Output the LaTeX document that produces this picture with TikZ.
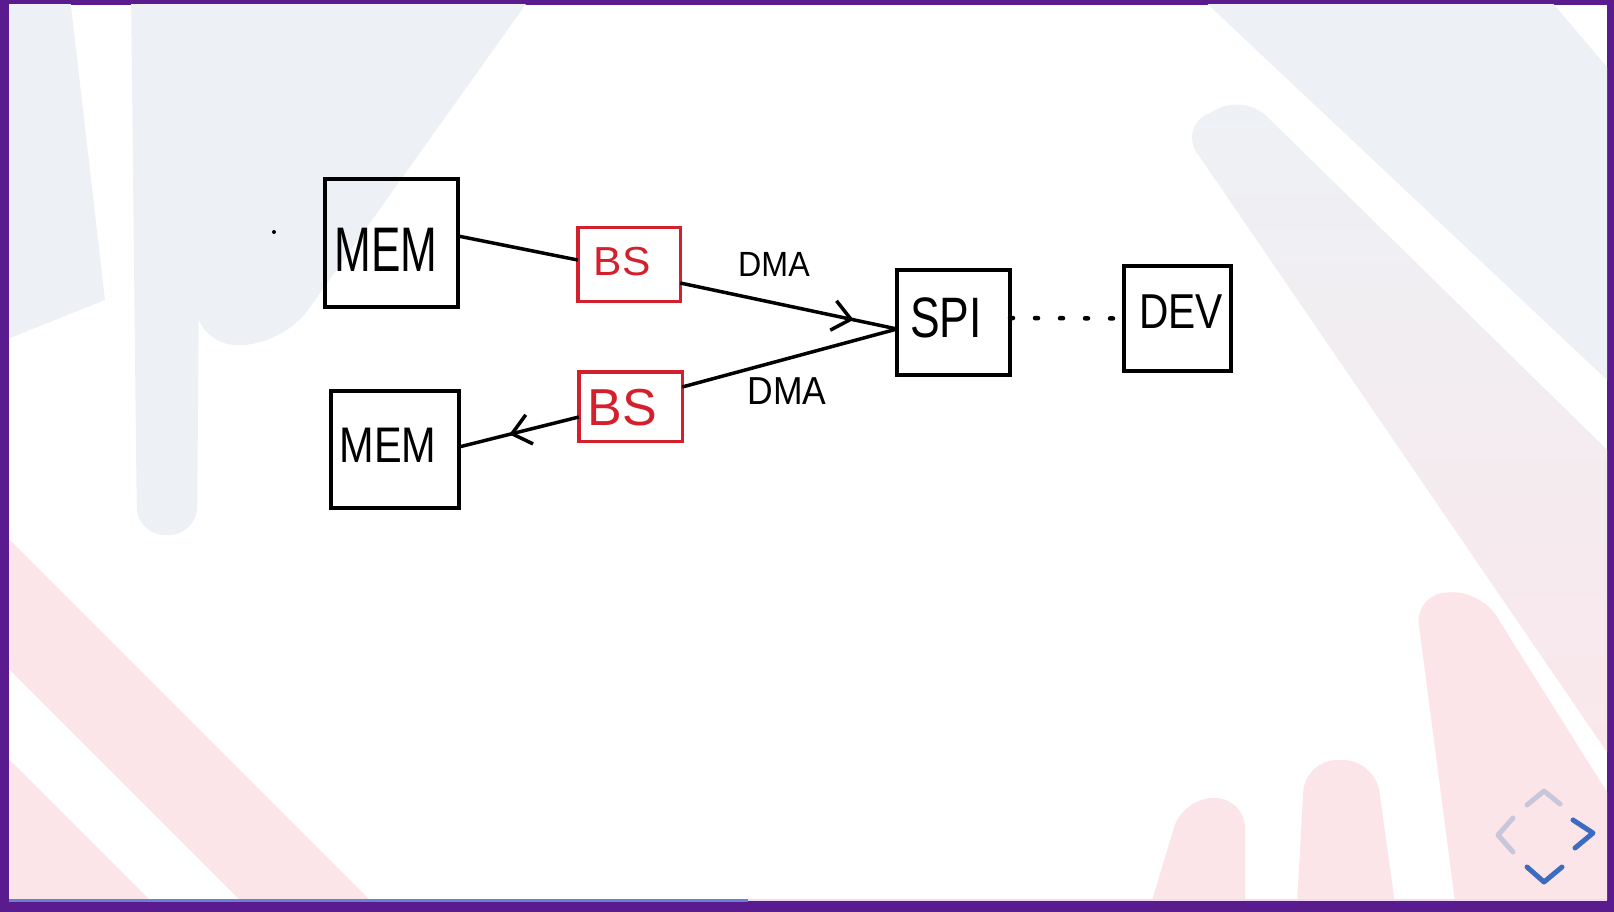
\documentclass[tikz,border=0pt]{standalone}
\usepackage{fontspec}
\setmainfont{Liberation Sans}
\usepackage{graphicx}
\usetikzlibrary{arrows.meta,decorations.markings,calc}
\definecolor{frame}{HTML}{5A1B8E}
\definecolor{tgray}{HTML}{EDF1F5}
\definecolor{tpink}{HTML}{FCE5E9}
\definecolor{bsred}{HTML}{D4202C}
\definecolor{navblue}{HTML}{3D6BC0}
\definecolor{navgray}{HTML}{C8C6DA}
\definecolor{barblue}{HTML}{6A7FD4}
\definecolor{barpink}{HTML}{EFDAF4}
\newcommand\hw[3]{\fontsize{#2}{#2}\selectfont\scalebox{#1}[1]{#3}}
\begin{document}
\begin{tikzpicture}[x=1pt,y=-1pt,
  box/.style={draw=black, line width=4pt, inner sep=0pt, outer sep=0pt},
  redbox/.style={draw=bsred, line width=3.5pt, inner sep=0pt, outer sep=0pt},
  lbl/.style={inner sep=0pt, outer sep=0pt, anchor=center},
  wire/.style={line width=3.5pt, draw=black},
  midarrow/.style={postaction={decorate}, decoration={markings,
     mark=at position #1 with {\arrow{Straight Barb[length=18pt,width=30pt,line width=3.5pt]}}}},
  nav/.style={line width=5pt, line cap=round, line join=round}]
\useasboundingbox (0,0) rectangle (1614,912);
% frame
\fill[frame] (0,0) rectangle (1614,912);
\fill[white] (9,5) rectangle (1607,901);
% background tints
\begin{scope}
\clip (9,5) rectangle (1607,899);
\fill[tgray] (-20,-20) -- (68,-20) -- (105,300) -- (-20,350) -- cycle;
\fill[tgray, rounded corners=28pt] (130,-100) -- (202,-100) -- (197,535) -- (137,535) -- cycle;
\fill[tgray, rounded corners=42pt] (200,-100) -- (600,-100) -- (283,345) -- (195,345) -- cycle;
\fill[tpink] (-20,730) -- (182,932) -- (-20,932) -- cycle;
\fill[tpink] (-20,640) -- (-20,510) -- (402,932) -- (272,932) -- cycle;
\fill[tgray] (1182,-20) -- (1533,-20) -- (1640,106) -- (1640,411) -- cycle;
\shade[top color=tgray, bottom color=tpink, rounded corners=30pt] (1245,95) -- (1700,541) -- (1700,888) -- (1180,128) -- cycle;
\fill[tpink, rounded corners=30pt] (1415,595) -- (1480,590) -- (1700,940) -- (1460,940) -- cycle;
\fill[tpink, rounded corners=32pt] (1305,760) -- (1375,760) -- (1400,940) -- (1295,940) -- cycle;
\fill[tpink, rounded corners=30pt] (1183,798) -- (1245,798) -- (1245,940) -- (1140,940) -- cycle;
\end{scope}
% progress bar
\fill[barblue] (9,899) rectangle (748,902);
\fill[barpink] (748,899) rectangle (1607,901);
% boxes
\node[box, minimum width=133pt, minimum height=128pt] (mem1) at (391.5,243) {};
\node[box, minimum width=128pt, minimum height=117pt] (mem2) at (395,449.5) {};
\node[redbox, minimum width=102.5pt, minimum height=73.5pt] (bs1) at (629,264.5) {};
\node[redbox, minimum width=103.5pt, minimum height=69.5pt] (bs2) at (630.5,406.5) {};
\node[box, minimum width=113pt, minimum height=105pt] (spi) at (953.5,322.5) {};
\node[box, minimum width=107pt, minimum height=105pt] (dev) at (1177.5,318.5) {};
% labels
\node[lbl] (tmem1) at (386,250) {\hw{0.70}{63}{MEM}};
\node[lbl] (tmem2) at (388,445) {\hw{0.83}{50}{MEM}};
\node[lbl, text=bsred] (tbs1) at (622,262) {\hw{1.05}{40.5}{BS}};
\node[lbl, text=bsred] (tbs2) at (622,408) {\hw{1.0}{52}{BS}};
\node[lbl] (tspi) at (946,318) {\hw{0.78}{57}{SPI}};
\node[lbl] (tdev) at (1181,312) {\hw{0.83}{49}{DEV}};
\node[lbl] (tdma1) at (774,264) {\hw{0.92}{35}{DMA}};
\node[lbl] (tdma2) at (787,391) {\hw{0.91}{39}{DMA}};
% connectors
\draw[wire] ([yshift=7pt]mem1.east) -- ([yshift=4.5pt]bs1.west);
\draw[wire, midarrow=0.8] ([yshift=-18.5pt]bs1.east) -- ([yshift=-6.5pt]spi.west);
\draw[wire] ([yshift=19.5pt]bs2.east) -- ([yshift=-6.5pt]spi.west);
\draw[wire, midarrow=0.58] ([yshift=-10.5pt]bs2.west) -- ([yshift=2.5pt]mem2.east);
\draw[line width=4.5pt, dash pattern=on 3pt off 22pt, line cap=round] ([yshift=4.5pt]spi.east) -- (dev.west);
% stray dot
\fill (274,232) circle[radius=2];
% navigation icon
\draw[nav, navgray] (1527,805) -- (1544,791) -- (1560,804);
\draw[nav, navgray] (1513,818) -- (1498,835) -- (1513,852);
\draw[nav, navblue] (1573,820) -- (1593,833) -- (1575,848);
\draw[nav, navblue] (1527,867) -- (1544,882) -- (1562,867);
\end{tikzpicture}
\end{document}
